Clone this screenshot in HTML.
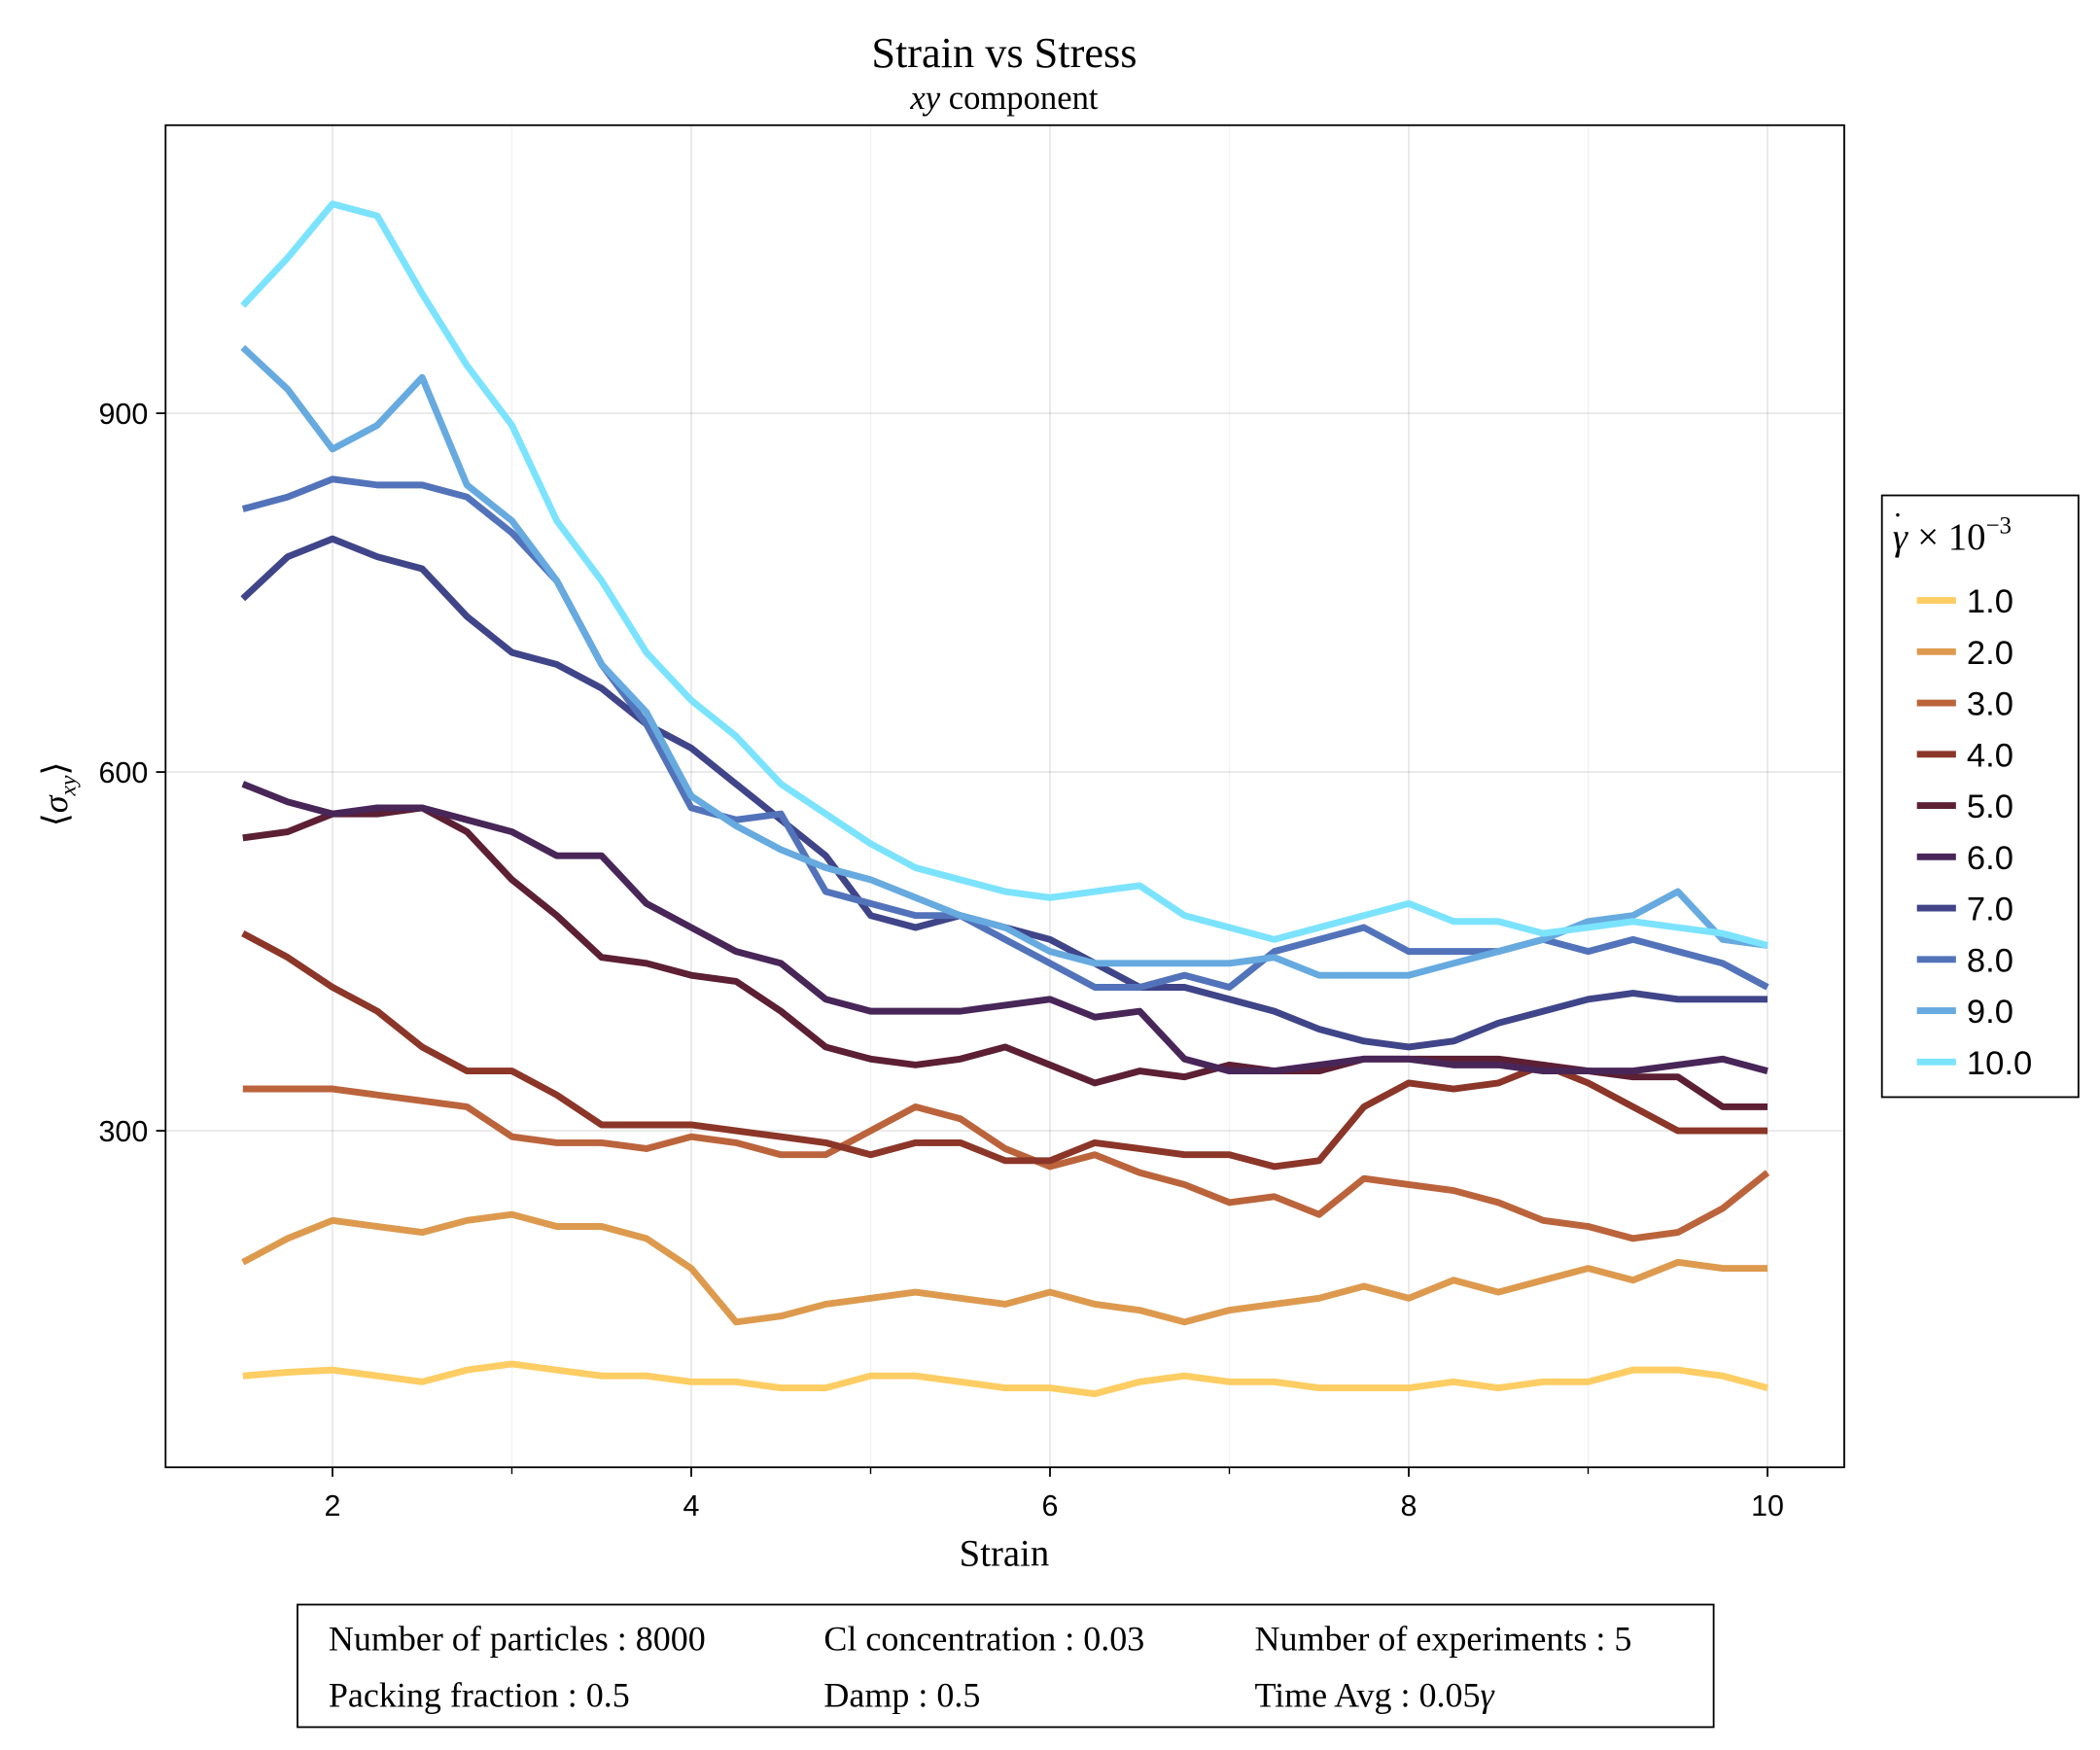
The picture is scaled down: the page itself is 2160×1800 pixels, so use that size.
<!DOCTYPE html>
<html><head><meta charset="utf-8"><style>
html,body{margin:0;padding:0;background:#fff;}
svg{display:block;}
.sans{font-family:"Liberation Sans",sans-serif;}
.serif{font-family:"Liberation Serif","DejaVu Serif",serif;}
</style></head><body>
<svg id="chart" width="2160" height="1800" viewBox="0 0 1560 1300" xmlns="http://www.w3.org/2000/svg">
<rect x="0" y="0" width="1560" height="1300" fill="#fff"/>
<text class="serif" x="746" y="50" font-size="32" text-anchor="middle">Strain vs Stress</text>
<text class="serif" x="746" y="81" font-size="25" text-anchor="middle"><tspan font-style="italic">xy</tspan> component</text>
<g id="grid"></g>
<g id="series"></g>
<rect x="123" y="93" width="1247" height="997" fill="none" stroke="#000" stroke-width="1.3"/>
<g id="ticks"></g>
<text class="serif" x="746" y="1163" font-size="28" text-anchor="middle">Strain</text>
<text class="serif" font-size="26" text-anchor="middle" transform="translate(50,590) rotate(-90)">⟨<tspan font-style="italic">σ</tspan><tspan font-style="italic" font-size="17" dy="6">xy</tspan><tspan dy="-6">⟩</tspan></text>
<g id="legend">
<rect x="1398" y="368" width="146" height="447" fill="#fff" stroke="#000" stroke-width="1.3"/>
<text class="serif" x="1406" y="408" font-size="28"><tspan font-style="italic">γ</tspan><tspan dx="-11" dy="-18" font-size="22">·</tspan><tspan dx="4" dy="18"> × 10</tspan><tspan font-size="18" dy="-12">−3</tspan></text>
</g>
<g>
<rect x="221" y="1192" width="1052" height="91" fill="#fff" stroke="#000" stroke-width="1.3"/>
<g class="serif" font-size="26">
<text x="244" y="1226">Number of particles : 8000</text>
<text x="612" y="1226">Cl concentration : 0.03</text>
<text x="932" y="1226">Number of experiments : 5</text>
<text x="244" y="1268">Packing fraction : 0.5</text>
<text x="612" y="1268">Damp : 0.5</text>
<text x="932" y="1268">Time Avg : 0.05<tspan font-style="italic">γ</tspan></text>
</g>
</g>
</svg>
<script>
const strain = [1.5,1.75,2,2.25,2.5,2.75,3,3.25,3.5,3.75,4,4.25,4.5,4.75,5,5.25,5.5,5.75,6,6.25,6.5,6.75,7,7.25,7.5,7.75,8,8.25,8.5,8.75,9,9.25,9.5,9.75,10];
const rateLabels = ["1.0","2.0","3.0","4.0","5.0","6.0","7.0","8.0","9.0","10.0"];
const s1 = [95,98,100,95,90,100,105,100,95,95,90,90,85,85,95,95,90,85,85,80,90,95,90,90,85,85,85,90,85,90,90,100,100,95,85];
const s2 = [190,210,225,220,215,225,230,220,220,210,185,140,145,155,160,165,160,155,165,155,150,140,150,155,160,170,160,175,165,175,185,175,190,185,185];
const s3 = [335,335,335,330,325,320,295,290,290,285,295,290,280,280,300,320,310,285,270,280,265,255,240,245,230,260,255,250,240,225,220,210,215,235,265];
const s4 = [465,445,420,400,370,350,350,330,305,305,305,300,295,290,280,290,290,275,275,290,285,280,280,270,275,320,340,335,340,355,340,320,300,300,300];
const s5 = [545,550,565,565,570,550,510,480,445,440,430,425,400,370,360,355,360,370,355,340,350,345,355,350,350,360,360,360,360,355,350,345,345,320,320];
const s6 = [590,575,565,570,570,560,550,530,530,490,470,450,440,410,400,400,400,405,410,395,400,360,350,350,355,360,360,355,355,350,350,350,355,360,350];
const s7 = [745,780,795,780,770,730,700,690,670,640,620,590,560,530,480,470,480,470,460,440,420,420,410,400,385,375,370,375,390,400,410,415,410,410,410];
const s8 = [820,830,845,840,840,830,800,760,690,640,570,560,565,500,490,480,480,460,440,420,420,430,420,450,460,470,450,450,450,460,450,460,450,440,420];
const s9 = [955,920,870,890,930,840,810,760,690,650,580,555,535,520,510,495,480,470,450,440,440,440,440,445,430,430,430,440,450,460,475,480,500,460,455];
const s10 = [990,1030,1075,1065,1000,940,890,810,760,700,660,630,590,565,540,520,510,500,495,500,505,480,470,460,470,480,490,475,475,465,470,475,470,465,455];
const xTicks = [2,4,6,8,10];
const xMinor = [3,5,7,9];
const yTicks = [300,600,900];
const allSeries = [s1,s2,s3,s4,s5,s6,s7,s8,s9,s10];
const colors = ["#fecd63","#dd9a4e","#bb643c","#8b3628","#5c1f33","#482658","#3f4588","#5273ba","#66aadf","#7ce3fe"];
const NS = "http://www.w3.org/2000/svg";
const xScale = v => 247 + (v - 2) * 133.25;
const yScale = v => 307 - (v - 900) * 266.5 / 300;
function mk(tag, attrs, parent){const e=document.createElementNS(NS,tag);for(const k in attrs)e.setAttribute(k,attrs[k]);parent.appendChild(e);return e;}
const grid=document.getElementById('grid'), ticks=document.getElementById('ticks');
xTicks.forEach(t=>{
  const l=mk('line',{x1:xScale(t),x2:xScale(t),y1:93,y2:1090,stroke:'#000','stroke-opacity':0.12,'stroke-width':1},grid);
  
  
  const tk=mk('line',{x1:xScale(t),x2:xScale(t),y1:1090,y2:1097,stroke:'#000','stroke-width':1.3},ticks);
  
  
  const tx=mk('text',{x:xScale(t),y:1126,'font-size':22,'text-anchor':'middle',class:'sans'},ticks);
  tx.textContent=t;
  
  
});
xMinor.forEach(t=>{
  const l=mk('line',{x1:xScale(t),x2:xScale(t),y1:93,y2:1090,stroke:'#000','stroke-opacity':0.05,'stroke-width':1},grid);
  
  
  const tk=mk('line',{x1:xScale(t),x2:xScale(t),y1:1090,y2:1095,stroke:'#000','stroke-width':1},ticks);
  
  
});
yTicks.forEach(t=>{
  const l=mk('line',{x1:123,x2:1370,y1:yScale(t),y2:yScale(t),stroke:'#000','stroke-opacity':0.12,'stroke-width':1},grid);
  
  
  const tk=mk('line',{x1:116,x2:123,y1:yScale(t),y2:yScale(t),stroke:'#000','stroke-width':1.3},ticks);
  
  
  const tx=mk('text',{x:110,y:yScale(t)+8,'font-size':22,'text-anchor':'end',class:'sans'},ticks);
  tx.textContent=t;
  
  
});
const sg=document.getElementById('series');
allSeries.forEach((s,i)=>{
  const pts=s.map((v,j)=>xScale(strain[j]).toFixed(1)+','+yScale(v).toFixed(1)).join(' ');
  const p=mk('polyline',{points:pts,fill:'none',stroke:colors[i],'stroke-width':5,'stroke-linejoin':'round'},sg);
  
  
});
const lg=document.getElementById('legend');
rateLabels.forEach((lab,i)=>{
  const y=446+i*38.1;
  const l=mk('line',{x1:1424,x2:1453,y1:y,y2:y,stroke:colors[i],'stroke-width':5},lg);
  
  
  const t=mk('text',{x:1461,y:y+9,'font-size':25,class:'sans'},lg);
  t.textContent=lab;
  
  
});
</script>
</body></html>
